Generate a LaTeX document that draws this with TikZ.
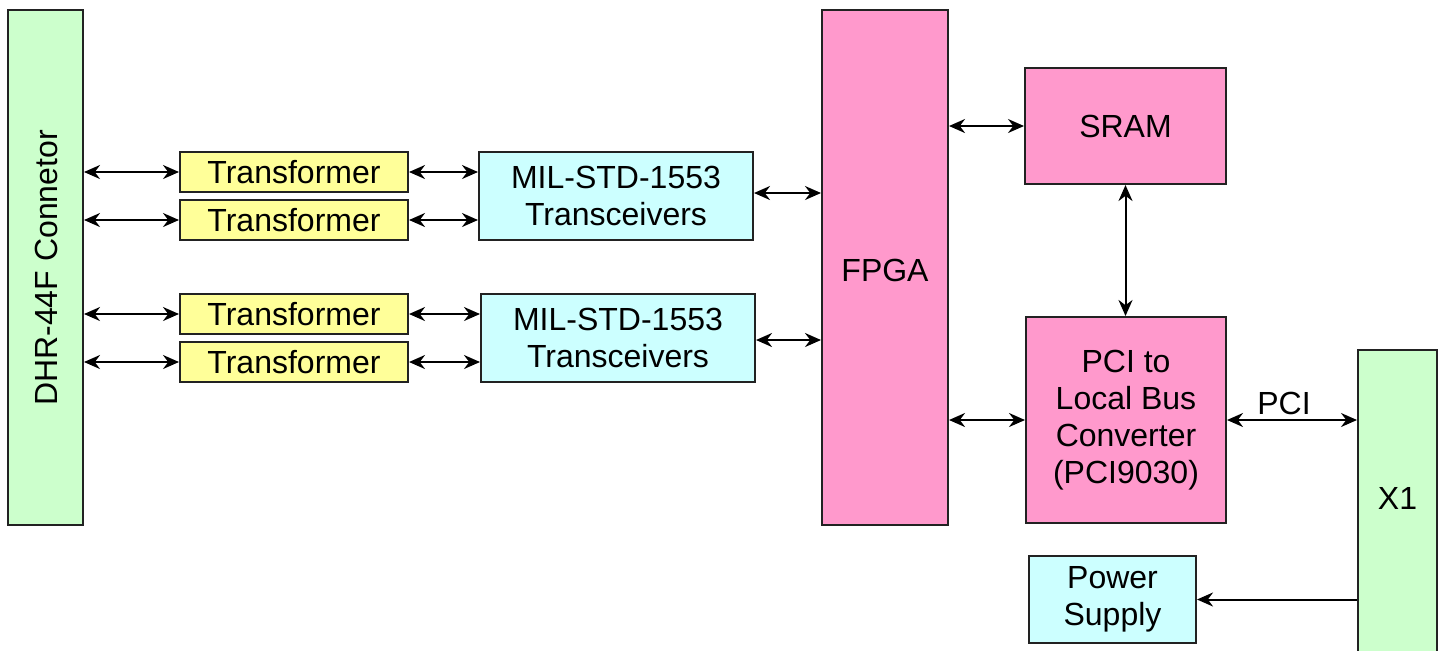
\documentclass[tikz,border=0pt]{standalone}
\usepackage{fontspec}
\setmainfont{Liberation Sans}
\usetikzlibrary{arrows.meta}
\definecolor{cgreen}{HTML}{CCFFCC}
\definecolor{cyellow}{HTML}{FFFF99}
\definecolor{ccyan}{HTML}{CCFFFF}
\definecolor{cpink}{HTML}{FF99CC}
\definecolor{cborder}{HTML}{222222}
\tikzset{
  box/.style={draw=cborder, line width=1pt, inner sep=0pt, align=center,
    font=\fontsize{16}{18.4}\selectfont},
  conn/.style={line width=1pt, {Stealth[length=8pt,width=7pt]}-{Stealth[length=8pt,width=7pt]}},
  oneway/.style={line width=1pt, -{Stealth[length=8pt,width=7pt]}},
}
\begin{document}
\begin{tikzpicture}[x=0.5pt,y=-0.5pt]
\useasboundingbox (0,0) rectangle (1445,650);
\begin{scope}
\clip (0,0) rectangle (1445,650);
% connector
\node[box, fill=cgreen, minimum width=37.5pt, minimum height=257.5pt] (dhr) at (45.5,267.5) {};
\node[rotate=90, font=\fontsize{16}{18}\selectfont] (dhrtext) at (46.5,268) {DHR-44F Connetor};
% transformers
\node[box, fill=cyellow, minimum width=114pt, minimum height=20pt] (t1) at (294,172) {Transformer};
\node[box, fill=cyellow, minimum width=114pt, minimum height=20pt] (t2) at (294,220) {Transformer};
\node[box, fill=cyellow, minimum width=114pt, minimum height=20pt] (t3) at (294,314) {Transformer};
\node[box, fill=cyellow, minimum width=114pt, minimum height=20pt] (t4) at (294,362) {Transformer};
% transceivers
\node[box, fill=ccyan, minimum width=137pt, minimum height=44pt] (tc1) at (616,196) {MIL-STD-1553\\Transceivers};
\node[box, fill=ccyan, minimum width=137pt, minimum height=44pt] (tc2) at (618,338) {MIL-STD-1553\\Transceivers};
% FPGA
\node[box, fill=cpink, minimum width=63pt, minimum height=257.5pt] (fpga) at (885,267.5) {};
\node[font=\fontsize{16}{18}\selectfont] (fpgatext) at (885,270) {FPGA};
% SRAM
\node[box, fill=cpink, minimum width=100.5pt, minimum height=58pt] (sram) at (1125.5,126) {SRAM};
% PCI converter
\node[box, fill=cpink, minimum width=100pt, minimum height=103pt] (pci) at (1126,420) {PCI to\\Local Bus\\Converter\\(PCI9030)};
% X1
\node[box, fill=cgreen, minimum width=39.5pt, minimum height=170pt] (x1) at (1397.5,520) {};
\node[font=\fontsize{16}{18}\selectfont] (x1text) at (1397.5,498) {X1};
% power supply
\node[box, fill=ccyan, minimum width=83.5pt, minimum height=43.5pt] (ps) at (1112.5,599.5) {Power\\Supply};
\end{scope}
% connectors
\foreach \t in {t1,t2,t3,t4}{
  \draw[conn] (dhr.east |- \t.west) -- (\t.west);
}
\draw[conn] (t1.east) -- (tc1.west |- t1.east);
\draw[conn] (t2.east) -- (tc1.west |- t2.east);
\draw[conn] (t3.east) -- (tc2.west |- t3.east);
\draw[conn] (t4.east) -- (tc2.west |- t4.east);
\coordinate (tc1out) at ([yshift=1.5pt]tc1.east);
\coordinate (tc2out) at ([yshift=-1pt]tc2.east);
\draw[conn] (tc1out) -- (fpga.west |- tc1out);
\draw[conn] (tc2out) -- (fpga.west |- tc2out);
\draw[conn] (fpga.east |- sram.west) -- (sram.west);
\draw[conn] (sram.south) -- (pci.north -| sram.south);
\draw[conn] (fpga.east |- pci.west) -- (pci.west);
\draw[conn] (pci.east) -- node[above, font=\fontsize{16}{18}\selectfont, xshift=-4pt, yshift=-1pt] (pcilabel) {PCI} (x1.west |- pci.east);
\draw[oneway] (x1.west |- ps.east) -- (ps.east);
\end{tikzpicture}
\end{document}
